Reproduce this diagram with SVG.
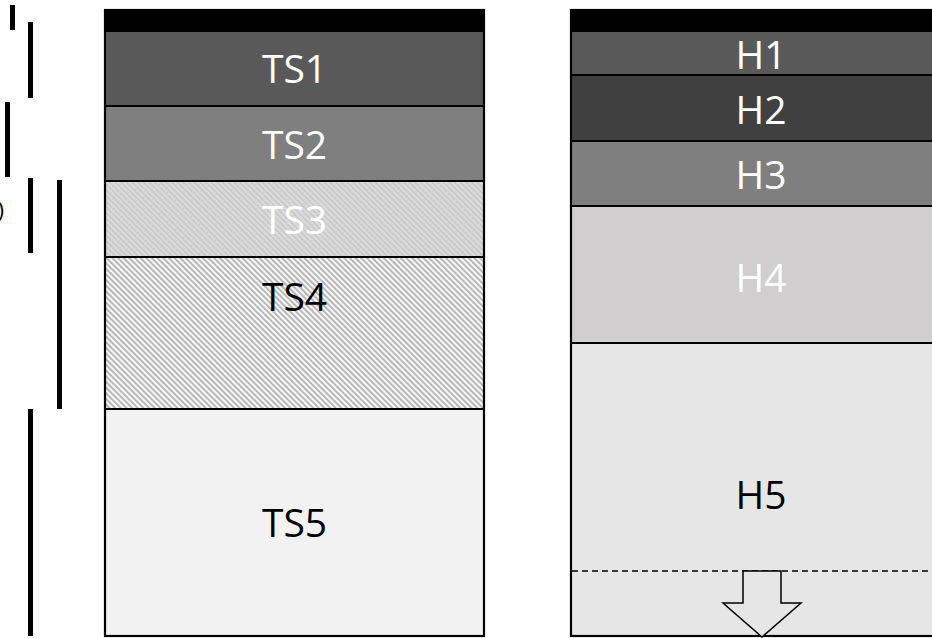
<svg xmlns="http://www.w3.org/2000/svg" width="932" height="638" viewBox="0 0 932 638">
<style>
.lbl{font-family:"Open Sans","Noto Sans","Liberation Sans",sans-serif;font-size:39px;text-anchor:middle}
.w{fill:#ffffff}
.k{fill:#000000}
.sep{stroke:#000;stroke-width:2.2;fill:none}
.bar{fill:#000}
</style>
<defs>
<pattern id="hatch3" patternUnits="userSpaceOnUse" width="4" height="4" patternTransform="rotate(-45)">
<rect width="4" height="4" fill="#dadada"/>
<rect width="1.2" height="4" fill="#c2c2c2"/>
</pattern>
<pattern id="hatch4" patternUnits="userSpaceOnUse" width="4" height="4" patternTransform="rotate(-45)">
<rect width="4" height="4" fill="#f7f7f7"/>
<rect width="1.8" height="4" fill="#b2b2b2"/>
</pattern>
</defs>
<rect width="932" height="638" fill="#ffffff"/>

<g id="scale-bars">
<rect class="bar" x="10" y="5" width="5" height="25"/>
<rect class="bar" x="28" y="22" width="5" height="76"/>
<rect class="bar" x="5" y="102" width="5" height="75"/>
<rect class="bar" x="28" y="178" width="5" height="75"/>
<rect class="bar" x="57" y="180" width="5" height="229"/>
<rect class="bar" x="28" y="409" width="5" height="227"/>
<text x="4" y="218" font-family="Open Sans, sans-serif" font-size="22" text-anchor="end" fill="#000">)</text>
</g>

<g id="left-column">
<rect x="105" y="10" width="379" height="22" fill="#000"/>
<g id="TS1"><rect x="105" y="32" width="379" height="74" fill="#595959"/><text class="lbl w" x="294.5" y="83">TS1</text></g>
<g id="TS2"><rect x="105" y="106" width="379" height="75" fill="#7f7f7f"/><text class="lbl w" x="294.5" y="159">TS2</text></g>
<g id="TS3"><rect x="105" y="181" width="379" height="76" fill="url(#hatch3)"/><text class="lbl w" x="294.5" y="234">TS3</text></g>
<g id="TS4"><rect x="105" y="257" width="379" height="152" fill="url(#hatch4)"/><text class="lbl k" x="294.5" y="311">TS4</text></g>
<g id="TS5"><rect x="105" y="409" width="379" height="227" fill="#f2f2f2"/><text class="lbl k" x="294.5" y="537">TS5</text></g>
<line class="sep" x1="105" y1="106" x2="484" y2="106"/>
<line class="sep" x1="105" y1="181" x2="484" y2="181"/>
<line class="sep" x1="105" y1="257" x2="484" y2="257"/>
<line class="sep" x1="105" y1="409" x2="484" y2="409"/>
<rect class="sep" x="105" y="10" width="379" height="626"/>
</g>

<g id="right-column">
<rect x="571" y="10" width="380" height="22" fill="#000"/>
<g id="H1"><rect x="571" y="32" width="380" height="43" fill="#595959"/><text class="lbl w" x="761" y="69">H1</text></g>
<g id="H2"><rect x="571" y="75" width="380" height="66" fill="#404040"/><text class="lbl w" x="761" y="124">H2</text></g>
<g id="H3"><rect x="571" y="141" width="380" height="65" fill="#7f7f7f"/><text class="lbl w" x="761" y="189">H3</text></g>
<g id="H4"><rect x="571" y="206" width="380" height="137" fill="#d0cece"/><text class="lbl w" x="761" y="292">H4</text></g>
<g id="H5"><rect x="571" y="343" width="380" height="293" fill="#e7e6e6"/><text class="lbl k" x="761" y="509">H5</text></g>
<line class="sep" x1="571" y1="75" x2="951" y2="75"/>
<line class="sep" x1="571" y1="141" x2="951" y2="141"/>
<line class="sep" x1="571" y1="206" x2="951" y2="206"/>
<line class="sep" x1="571" y1="343" x2="951" y2="343"/>
<rect class="sep" x="571" y="10" width="380" height="626"/>
</g>

<g id="connectors">
<line x1="572" y1="571" x2="932" y2="571" stroke="#000" stroke-width="1.5" stroke-dasharray="6,4"/>
<path d="M743,571 H781 V603 H801 L762,637 L723,603 H743 Z" fill="#e7e6e6" stroke="#000" stroke-width="1.5"/>
</g>
</svg>
